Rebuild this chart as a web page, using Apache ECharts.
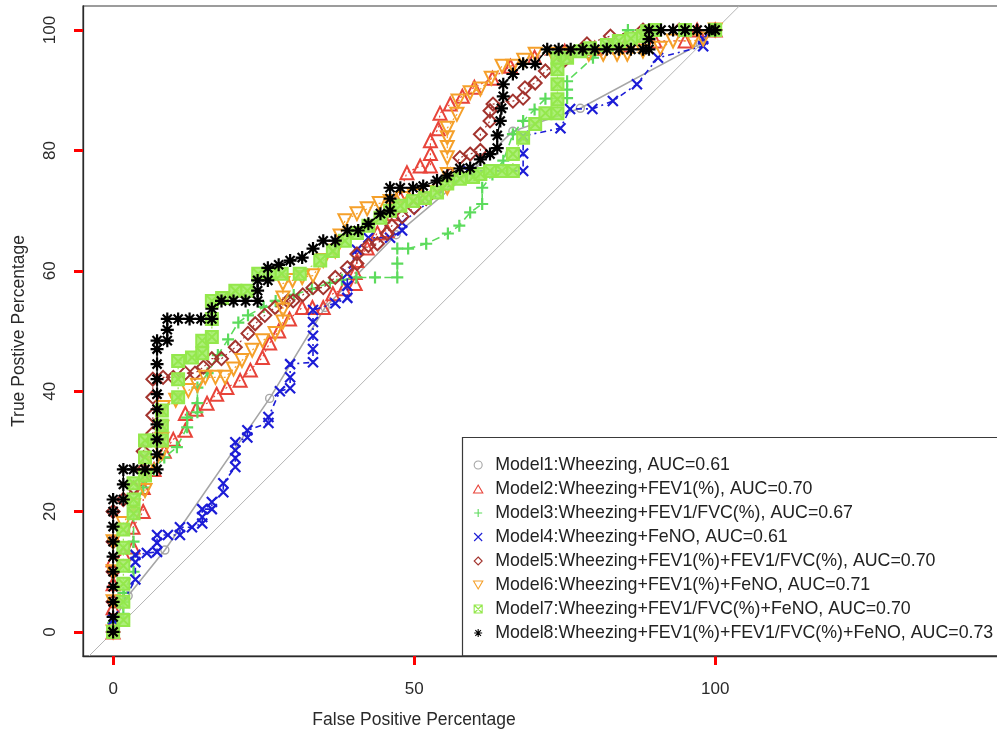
<!DOCTYPE html>
<html><head><meta charset="utf-8">
<script src="https://cdn.jsdelivr.net/npm/echarts@6/dist/echarts.min.js"></script>
<style>html,body{margin:0;padding:0;background:#fff}#c{width:997px;height:735px}</style>
</head><body><div id="c"></div>
<script>
// ---------- data ----------
const xTicks = [0, 50, 100];
const yTicks = [0, 20, 40, 60, 80, 100];
const refLine = [-4, 104];
const modelNames = [
  "Model1:Wheezing, AUC=0.61",
  "Model2:Wheezing+FEV1(%), AUC=0.70",
  "Model3:Wheezing+FEV1/FVC(%), AUC=0.67",
  "Model4:Wheezing+FeNO, AUC=0.61",
  "Model5:Wheezing+FEV1(%)+FEV1/FVC(%), AUC=0.70",
  "Model6:Wheezing+FEV1(%)+FeNO, AUC=0.71",
  "Model7:Wheezing+FEV1/FVC(%)+FeNO, AUC=0.70",
  "Model8:Wheezing+FEV1(%)+FEV1/FVC(%)+FeNO, AUC=0.73"
];
const model1Fpr = [0, 0, 2.5, 8.6, 26, 35.2, 47, 60, 66.4, 77.6, 97.5, 100];
const model1Tpr = [0, 1.7, 6, 13.6, 38.8, 53.9, 66, 77, 83.2, 87, 97.7, 100];

const model2Fpr = [0,0,0,0,1.7,3.3,3.3,5,5,6.8,8.5,10,12,12,13.8,15.6,17.2,18.9,21.1,22.8,24.8,26,27.5,29.3,31.4,33.1,34.9,36.5,38.3,40.2,40.2,40.5,42.2,43.9,45.5,46.5,47.5,48.8,51,52.7,52.7,52.7,54,54.3,56,58,60,63,66,70,75,80,85,90,95,97,100];
const model2Tpr = [0,4,8,12,13,14.1,17.4,20,24,27,30,32,33.5,36.3,37,38,39.5,40.6,41.8,43.5,45.6,48,50,52,53.9,53.9,53.9,56.2,57,57.9,59.7,61.7,63.8,66.3,66.7,69.5,72.5,76.3,77.4,77.4,79.5,81.6,83.6,86.2,87.7,89,90.5,92,94,95.5,96.5,97,97.5,98.2,98.2,100,100];

const model3Fpr = [0,0,1.7,1.7,1.7,3.4,3.4,3.4,5,6.8,8.5,10.6,12.3,12.3,14,14,14,15.7,17.4,19.1,20.8,22.4,25,27,30,33,36,38,40.4,43.5,47.2,47.2,47.2,49,52,55.6,57.5,59.3,61.3,61.3,63,64.8,66.4,68.1,70,71.8,75.4,75.4,75.4,79.7,82.5,85.5,90,95,100];
const model3Tpr = [0,1.5,3,5,6.5,10,15,20,24,27,29,30.7,34,35.6,36.5,38,40.6,43,46,48.6,51.4,52.6,54,55,56,57,58,58.5,58.9,58.9,58.9,61.2,63.7,63.7,64.5,66.2,67.5,69.7,71.1,73.8,76,78.3,82.7,84.9,86.8,88.6,88.7,90.1,91.5,95.4,97.5,100,100,100,100];

const model4Fpr = [0,0,3.7,3.7,3.7,5.6,7.3,7.3,7.3,9.1,11.1,11.1,13.1,14.8,14.8,14.8,16.4,16.4,18.3,18.3,20.3,20.3,20.3,20.3,22.3,22.3,25.8,25.8,27.7,29.4,29.4,29.4,33.2,33.2,33.2,33.2,33.2,36.9,38.9,38.9,38.9,40.5,42.4,46,48,48,59,68.1,68.1,68.1,74.3,75.9,79.6,83,87,90.5,98,98,100];
const model4Tpr = [0,2,8.7,11.6,12.8,13.1,13.3,14.8,16.1,16.1,16.1,17.4,17.4,18,19.1,20.4,20.4,21.6,23.2,24.7,27.4,28.9,30.2,31.5,32.3,33.5,34.7,35.7,40,40.5,42.3,44.5,44.8,47,49.2,51.5,53.5,54.6,55.5,57.5,59.5,63.5,65.5,65.5,66.7,68,76.6,76.6,79.5,82.4,83.7,86.9,86.9,88.2,91,95.4,97.3,98.5,100];

const model5Fpr = [0,0,0,0,0,1.7,3.4,5,5,6.6,6.6,6.6,6.6,8.3,10,12,13.6,15,16.4,18,20.3,22.4,23.6,25.2,26.9,29,29.9,31.5,33.2,34.9,36.9,38.9,40.5,40.5,42.4,43.9,45.5,46.3,48,50,52,54,56,57.6,59.3,61,61,62.6,62.6,63.1,66.4,68.1,68.4,70.1,71.8,75,78.7,82.6,88,94,100];
const model5Tpr = [0,5,10,15,20,22,24,27,30,33,36,39,42,42.3,42.3,43,43,44,45.4,45.4,47.3,49.6,51.2,52.6,53.9,55,55,56,57.2,57.2,58.9,60.5,61.2,62.8,64.2,64.5,66.2,67.5,69,70.5,72,74,76,78.8,79.4,80,82.7,84.9,86.6,87.7,88.2,88.7,90.4,91.2,93.2,95,97.7,99,100,100,100];

const model6Fpr = [0,0,0,0,1.7,3.4,5.3,5.3,6.8,8.1,8.1,8.1,8.3,10.4,12.5,14,15.3,17,18.6,20,21.4,23.1,24.8,26.9,28.2,28.2,28.2,28.2,29.8,31.4,33.2,34.9,36.9,37.7,38.5,40.5,42.2,44.2,46,48,50,52,55.5,55.5,55.5,55.5,55.5,55.5,57.1,57.3,59.3,61,62.8,64.6,66.4,68.2,70.1,73,76,79,81.4,83.7,85.4,88,90.9,93,96.3,98,100];
const model6Tpr = [0,5,10,15,18,21,23.5,26,28,29.7,32,34,37.3,38.5,40.1,41,42.3,42.3,42.3,43.7,45.1,46.8,48.4,49.6,51.5,53.5,55.5,57.9,58.4,58.9,59.2,61.7,63.3,65.8,68.3,69.5,70.3,71.2,71.5,72,72.5,73,73.8,76,78.8,80.5,82.1,83.7,86,88.2,89.6,90.2,92,94,94,95,96,96,96,96,96,96,96,96.5,97,98.2,98.2,98.5,100];

const model7Fpr = [0,1.7,1.7,1.7,1.7,1.7,1.7,3.4,3.4,3.4,5.3,5.3,5.3,6.8,8.1,8.1,8.1,10.8,10.8,10.8,13.1,14.8,14.8,16.4,16.4,16.4,18.1,20.3,22.3,24.1,26,28,31,34.4,36.5,38.5,40.5,42.4,44.4,46,47.7,49.8,51.8,53.8,55.5,57.6,59.8,61,62.6,64.6,66.4,66.4,68.1,70.1,71.8,73.8,73.8,73.8,73.8,73.8,75.4,77.6,79.2,82,84,86,88,88.7,90,95,100];
const model7Tpr = [0,2,5,8,11,14,17,19.7,22,24.7,26,29,31.8,31.8,31.8,34.3,36.8,39,42,45,45.6,46.3,48.4,49,52,55,55.5,56.7,56.7,59.5,59.5,59.5,59.5,61.7,63.3,65,66.3,67.5,68.8,70,70.8,71.6,72.1,73,74.5,75.3,75.6,76.1,76.6,76.6,76.6,79.4,82.1,84.4,86.2,86.2,88.5,91,93.5,95.4,95.4,96.5,97,97.5,98.2,98.6,99,99.8,100,100,100];

const model8Fpr = [0,0,0,0,0,0,0,0,0,0,1.7,1.7,1.7,3.4,5.3,7.3,7.3,7.3,7.3,7.3,7.3,7.3,7.3,7.3,7.3,9,9,9,10.8,12.7,14.6,16.4,16.4,18,20,22,24,24,24,25.7,25.7,27.5,29.4,31.4,33.2,34.9,36.9,38.9,40.7,42.4,44.4,46,46,46,47.7,49.8,51.5,53.8,55.5,57.6,59.3,61,62.6,63.8,63.8,64.3,64.5,64.8,64.8,66.4,68.1,70.1,72.1,74,76,78,80,82,84,86,88,89,89,89,91,93,95,97,99,100];
const model8Tpr = [0,2.5,5,7.5,10,12.5,15,17.5,20,22,22,24.5,27,27,27,27,29.5,32,34.5,37,39.5,42,44.5,47,48.4,48.4,50.2,52,52,52,52,52,53.7,55,55,55,55,56.7,58.4,58.4,60.5,61,61.7,62.2,63.7,65,65,66.7,66.7,67.8,69.5,70,72,73.8,73.8,73.8,74.1,75,75.8,77,77.1,78.5,79.4,80.4,82.5,84.9,87,89,91,92.7,94.4,94.4,96.8,96.8,96.8,96.8,96.8,96.8,96.8,96.8,96.8,96.8,98.5,100,100,100,100,100,100,100];

// ---------- styling ----------
const FONT = '"Liberation Sans", Arial, Helvetica, sans-serif';
const P_TRI = 'path://M5,0L10,8.66L0,8.66Z';
const P_ITRI = 'path://M0,0L10,0L5,8.66Z';
const P_PLUS = 'path://M5,0L5,10M0,5L10,5';
const P_X = 'path://M0,0L10,10M10,0L0,10';
const P_DIA = 'path://M5,0L10,5L5,10L0,5Z';
const P_SQX = 'path://M0,0L10,0L10,10L0,10ZM0,0L10,10M10,0L0,10';
const P_AST = 'path://M5,0L5,10M0,5L10,5M1.5,1.5L8.5,8.5M8.5,1.5L1.5,8.5';

const looks = [
  {c:'#A6A6A6', sym:'circle', size:8,  lt:'solid',  fill:'rgba(0,0,0,0)', bw:1.4, lw:1.6},
  {c:'#E8443A', sym:P_TRI,   size:13, lt:[2,3],   fill:'rgba(0,0,0,0)', bw:2,   lw:1.2},
  {c:'#5CDB5C', sym:P_PLUS,  size:12, lt:[8,5],   fill:'rgba(0,0,0,0)', bw:2.2, lw:1.6},
  {c:'#1C1CD6', sym:P_X,     size:10, lt:[6,4,2,4], fill:'rgba(0,0,0,0)', bw:2.2, lw:1.6},
  {c:'#A3342E', sym:P_DIA,   size:13, lt:[2,3],   fill:'rgba(0,0,0,0)', bw:2,   lw:1.2},
  {c:'#F5A02A', sym:P_ITRI,  size:13, lt:[2,3],   fill:'rgba(0,0,0,0)', bw:2,   lw:1.2},
  {c:'#94E84C', sym:P_SQX,   size:12, lt:[2,3],   fill:'rgba(160,236,100,0.85)', bw:2, lw:1.2},
  {c:'#000000', sym:P_AST,   size:13, lt:'solid', fill:'rgba(0,0,0,0)', bw:2.2, lw:1.4}
];
const legendIcons = ['circle', P_TRI, P_PLUS, P_X, P_DIA, P_ITRI, P_SQX, P_AST];

const fprs = [model1Fpr, model2Fpr, model3Fpr, model4Fpr, model5Fpr, model6Fpr, model7Fpr, model8Fpr];
const tprs = [model1Tpr, model2Tpr, model3Tpr, model4Tpr, model5Tpr, model6Tpr, model7Tpr, model8Tpr];

const series = [{
  type: 'line', name: 'ref', data: refLine.map(v => [v, v]), symbol: 'none',
  lineStyle: {color: '#B5B5B5', width: 1}, silent: true, z: 1
}];
fprs.forEach((xs, i) => {
  const L = looks[i];
  series.push({
    type: 'line', name: modelNames[i],
    data: xs.map((x, k) => [x, tprs[i][k]]),
    symbol: L.sym, symbolSize: L.size, showSymbol: true, showAllSymbol: true,
    lineStyle: {color: L.c, width: L.lw, type: L.lt},
    itemStyle: {color: L.fill, borderColor: L.c, borderWidth: L.bw},
    emphasis: {disabled: true}, z: 2 + i
  });
});

const chart = echarts.init(document.getElementById('c'), null, {renderer: 'canvas'});
chart.setOption({
  animation: false,
  backgroundColor: '#fff',
  grid: {left: 83, top: 6, right: -3, bottom: 79, show: true, borderColor: '#3a3a3a', borderWidth: 1.2,
         containLabel: false, outerBoundsMode: 'none'},
  xAxis: {
    type: 'value', min: -5, max: 147.3,
    axisLine: {show: true, onZero: false, lineStyle: {color: '#2a2a2a', width: 1.3}}, splitLine: {show: false},
    axisTick: {show: true, length: 9, customValues: xTicks, lineStyle: {color: 'red', width: 3}},
    axisLabel: {customValues: xTicks, margin: 25, fontFamily: FONT, fontSize: 17, color: '#2a2a2a'}
  },
  yAxis: {
    type: 'value', min: -4, max: 104,
    axisLine: {show: true, onZero: false, lineStyle: {color: '#2a2a2a', width: 1.3}}, splitLine: {show: false},
    axisTick: {show: true, length: 9, customValues: yTicks, lineStyle: {color: 'red', width: 3}},
    axisLabel: {customValues: yTicks, rotate: 90, margin: 24, fontFamily: FONT, fontSize: 17, color: '#2a2a2a'}
  },
  legend: {
    orient: 'vertical', left: 473, top: 455, padding: 0,
    itemWidth: 18, itemHeight: 8, itemGap: 4, selectedMode: false,
    textStyle: {fontFamily: FONT, fontSize: 17.8, color: '#222', lineHeight: 20, padding: [0, 0, 0, 3]},
    data: modelNames.map((n, i) => ({
      name: n, icon: legendIcons[i],
      itemStyle: {color: 'rgba(0,0,0,0)', borderColor: looks[i].c, borderWidth: 1.1}
    }))
  },
  graphic: [
    {type: 'rect', shape: {x: 462.5, y: 437.5, width: 600, height: 218.5},
     style: {fill: 'rgba(0,0,0,0)', stroke: '#3a3a3a', lineWidth: 1.2}, z: 10, silent: true},
    {type: 'text', x: 414, y: 720, style: {text: 'False Positive Percentage', font: '17.5px ' + FONT,
      fill: '#2a2a2a', align: 'center', verticalAlign: 'middle'}, silent: true},
    {type: 'text', x: 19, y: 331, rotation: Math.PI / 2, style: {text: 'True Postive Percentage', font: '17.5px ' + FONT,
      fill: '#2a2a2a', align: 'center', verticalAlign: 'middle'}, silent: true}
  ],
  series: series
});
</script>
</body></html>
